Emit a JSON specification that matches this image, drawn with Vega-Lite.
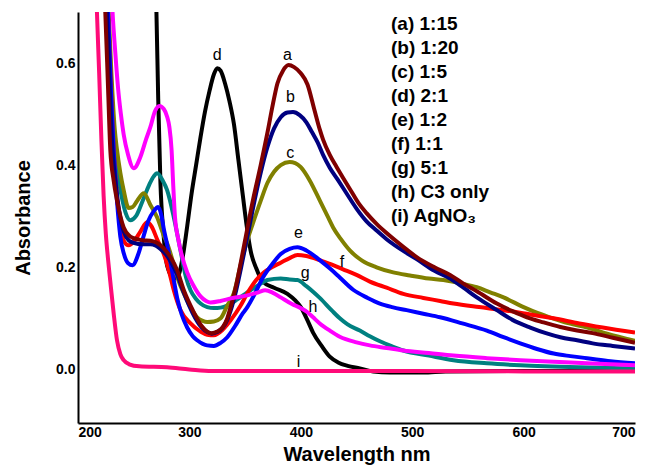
{
  "$schema": "https://vega.github.io/schema/vega-lite/v6.json",
  "autosize": "none",
  "width": 557,
  "height": 411,
  "padding": {"left": 78, "top": 12, "right": 14, "bottom": 44},
  "background": "white",
  "config": {
    "view": {"stroke": null},
    "font": "Liberation Sans",
    "axis": {
      "grid": false,
      "ticks": false,
      "domainColor": "black",
      "domainWidth": 2,
      "labelFont": "Liberation Sans",
      "labelFontWeight": "bold",
      "labelFontSize": 14,
      "labelColor": "black",
      "titleFont": "Liberation Sans",
      "titleFontWeight": "bold",
      "titleFontSize": 20,
      "titleColor": "black"
    }
  },
  "datasets": {
    "curves": [
      {"s": "(d) 2:1", "nm": 268, "A": 0.85}, {"s": "(d) 2:1", "nm": 270.4, "A": 0.70}, {"s": "(d) 2:1", "nm": 272, "A": 0.53}, {"s": "(d) 2:1", "nm": 274, "A": 0.365}, {"s": "(d) 2:1", "nm": 276.7, "A": 0.267}, {"s": "(d) 2:1", "nm": 279, "A": 0.215}, {"s": "(d) 2:1", "nm": 282, "A": 0.19}, {"s": "(d) 2:1", "nm": 286, "A": 0.178}, {"s": "(d) 2:1", "nm": 290, "A": 0.183}, {"s": "(d) 2:1", "nm": 294, "A": 0.22}, {"s": "(d) 2:1", "nm": 298, "A": 0.28}, {"s": "(d) 2:1", "nm": 302, "A": 0.345}, {"s": "(d) 2:1", "nm": 306, "A": 0.40}, {"s": "(d) 2:1", "nm": 310, "A": 0.455}, {"s": "(d) 2:1", "nm": 314, "A": 0.505}, {"s": "(d) 2:1", "nm": 318, "A": 0.545}, {"s": "(d) 2:1", "nm": 322, "A": 0.578}, {"s": "(d) 2:1", "nm": 325, "A": 0.59}, {"s": "(d) 2:1", "nm": 328, "A": 0.585}, {"s": "(d) 2:1", "nm": 332, "A": 0.56}, {"s": "(d) 2:1", "nm": 336, "A": 0.525}, {"s": "(d) 2:1", "nm": 340, "A": 0.48}, {"s": "(d) 2:1", "nm": 344, "A": 0.41}, {"s": "(d) 2:1", "nm": 348, "A": 0.34}, {"s": "(d) 2:1", "nm": 351.5, "A": 0.28}, {"s": "(d) 2:1", "nm": 355, "A": 0.232}, {"s": "(d) 2:1", "nm": 360, "A": 0.198}, {"s": "(d) 2:1", "nm": 366, "A": 0.172}, {"s": "(d) 2:1", "nm": 376, "A": 0.16}, {"s": "(d) 2:1", "nm": 388, "A": 0.148}, {"s": "(d) 2:1", "nm": 395, "A": 0.135}, {"s": "(d) 2:1", "nm": 400, "A": 0.122}, {"s": "(d) 2:1", "nm": 406, "A": 0.096}, {"s": "(d) 2:1", "nm": 411, "A": 0.072}, {"s": "(d) 2:1", "nm": 419, "A": 0.045}, {"s": "(d) 2:1", "nm": 426, "A": 0.025}, {"s": "(d) 2:1", "nm": 434, "A": 0.013}, {"s": "(d) 2:1", "nm": 442, "A": 0.007}, {"s": "(d) 2:1", "nm": 453, "A": 0.002}, {"s": "(d) 2:1", "nm": 465, "A": -0.004}, {"s": "(d) 2:1", "nm": 480, "A": -0.006}, {"s": "(d) 2:1", "nm": 510, "A": -0.006}, {"s": "(d) 2:1", "nm": 530, "A": -0.004}, {"s": "(d) 2:1", "nm": 600, "A": -0.003}, {"s": "(d) 2:1", "nm": 700, "A": -0.003},

      {"s": "(g) 5:1", "nm": 224, "A": 0.80}, {"s": "(g) 5:1", "nm": 227, "A": 0.70}, {"s": "(g) 5:1", "nm": 230, "A": 0.55}, {"s": "(g) 5:1", "nm": 233, "A": 0.43}, {"s": "(g) 5:1", "nm": 236, "A": 0.38}, {"s": "(g) 5:1", "nm": 240, "A": 0.33}, {"s": "(g) 5:1", "nm": 243, "A": 0.305}, {"s": "(g) 5:1", "nm": 247, "A": 0.292}, {"s": "(g) 5:1", "nm": 252, "A": 0.30}, {"s": "(g) 5:1", "nm": 258, "A": 0.33}, {"s": "(g) 5:1", "nm": 264, "A": 0.362}, {"s": "(g) 5:1", "nm": 268, "A": 0.378}, {"s": "(g) 5:1", "nm": 271, "A": 0.384}, {"s": "(g) 5:1", "nm": 276, "A": 0.37}, {"s": "(g) 5:1", "nm": 280, "A": 0.351}, {"s": "(g) 5:1", "nm": 286, "A": 0.298}, {"s": "(g) 5:1", "nm": 292, "A": 0.233}, {"s": "(g) 5:1", "nm": 297, "A": 0.18}, {"s": "(g) 5:1", "nm": 301, "A": 0.155}, {"s": "(g) 5:1", "nm": 306, "A": 0.138}, {"s": "(g) 5:1", "nm": 310, "A": 0.129}, {"s": "(g) 5:1", "nm": 316, "A": 0.122}, {"s": "(g) 5:1", "nm": 322, "A": 0.12}, {"s": "(g) 5:1", "nm": 328, "A": 0.121}, {"s": "(g) 5:1", "nm": 334, "A": 0.125}, {"s": "(g) 5:1", "nm": 343, "A": 0.137}, {"s": "(g) 5:1", "nm": 352, "A": 0.151}, {"s": "(g) 5:1", "nm": 362, "A": 0.165}, {"s": "(g) 5:1", "nm": 370, "A": 0.175}, {"s": "(g) 5:1", "nm": 382, "A": 0.178}, {"s": "(g) 5:1", "nm": 390, "A": 0.176}, {"s": "(g) 5:1", "nm": 397, "A": 0.175}, {"s": "(g) 5:1", "nm": 405, "A": 0.163}, {"s": "(g) 5:1", "nm": 411, "A": 0.152}, {"s": "(g) 5:1", "nm": 417, "A": 0.14}, {"s": "(g) 5:1", "nm": 428, "A": 0.115}, {"s": "(g) 5:1", "nm": 435, "A": 0.1}, {"s": "(g) 5:1", "nm": 442, "A": 0.088}, {"s": "(g) 5:1", "nm": 453, "A": 0.076}, {"s": "(g) 5:1", "nm": 462, "A": 0.065}, {"s": "(g) 5:1", "nm": 471, "A": 0.055}, {"s": "(g) 5:1", "nm": 482, "A": 0.045}, {"s": "(g) 5:1", "nm": 492, "A": 0.037}, {"s": "(g) 5:1", "nm": 515, "A": 0.027}, {"s": "(g) 5:1", "nm": 537, "A": 0.018}, {"s": "(g) 5:1", "nm": 567, "A": 0.012}, {"s": "(g) 5:1", "nm": 597, "A": 0.008}, {"s": "(g) 5:1", "nm": 650, "A": 0.004}, {"s": "(g) 5:1", "nm": 700, "A": 0.002},

      {"s": "(c) 1:5", "nm": 224, "A": 0.80}, {"s": "(c) 1:5", "nm": 227.5, "A": 0.70}, {"s": "(c) 1:5", "nm": 230, "A": 0.58}, {"s": "(c) 1:5", "nm": 233, "A": 0.47}, {"s": "(c) 1:5", "nm": 235, "A": 0.43}, {"s": "(c) 1:5", "nm": 238, "A": 0.385}, {"s": "(c) 1:5", "nm": 241, "A": 0.351}, {"s": "(c) 1:5", "nm": 245.5, "A": 0.316}, {"s": "(c) 1:5", "nm": 249, "A": 0.318}, {"s": "(c) 1:5", "nm": 253, "A": 0.33}, {"s": "(c) 1:5", "nm": 259, "A": 0.345}, {"s": "(c) 1:5", "nm": 265, "A": 0.322}, {"s": "(c) 1:5", "nm": 271, "A": 0.298}, {"s": "(c) 1:5", "nm": 277, "A": 0.262}, {"s": "(c) 1:5", "nm": 280, "A": 0.247}, {"s": "(c) 1:5", "nm": 286, "A": 0.205}, {"s": "(c) 1:5", "nm": 290, "A": 0.175}, {"s": "(c) 1:5", "nm": 295, "A": 0.149}, {"s": "(c) 1:5", "nm": 301, "A": 0.122}, {"s": "(c) 1:5", "nm": 307, "A": 0.102}, {"s": "(c) 1:5", "nm": 312, "A": 0.095}, {"s": "(c) 1:5", "nm": 316, "A": 0.093}, {"s": "(c) 1:5", "nm": 322, "A": 0.094}, {"s": "(c) 1:5", "nm": 328, "A": 0.1}, {"s": "(c) 1:5", "nm": 334, "A": 0.125}, {"s": "(c) 1:5", "nm": 340, "A": 0.15}, {"s": "(c) 1:5", "nm": 346, "A": 0.205}, {"s": "(c) 1:5", "nm": 352, "A": 0.253}, {"s": "(c) 1:5", "nm": 357, "A": 0.286}, {"s": "(c) 1:5", "nm": 364, "A": 0.33}, {"s": "(c) 1:5", "nm": 370, "A": 0.365}, {"s": "(c) 1:5", "nm": 376, "A": 0.387}, {"s": "(c) 1:5", "nm": 382, "A": 0.4}, {"s": "(c) 1:5", "nm": 390, "A": 0.406}, {"s": "(c) 1:5", "nm": 395, "A": 0.404}, {"s": "(c) 1:5", "nm": 400, "A": 0.396}, {"s": "(c) 1:5", "nm": 408, "A": 0.37}, {"s": "(c) 1:5", "nm": 417, "A": 0.331}, {"s": "(c) 1:5", "nm": 424, "A": 0.3}, {"s": "(c) 1:5", "nm": 429, "A": 0.278}, {"s": "(c) 1:5", "nm": 436, "A": 0.255}, {"s": "(c) 1:5", "nm": 444, "A": 0.233}, {"s": "(c) 1:5", "nm": 455, "A": 0.213}, {"s": "(c) 1:5", "nm": 468, "A": 0.2}, {"s": "(c) 1:5", "nm": 483, "A": 0.19}, {"s": "(c) 1:5", "nm": 498, "A": 0.184}, {"s": "(c) 1:5", "nm": 515, "A": 0.178}, {"s": "(c) 1:5", "nm": 528, "A": 0.175}, {"s": "(c) 1:5", "nm": 545, "A": 0.168}, {"s": "(c) 1:5", "nm": 558, "A": 0.161}, {"s": "(c) 1:5", "nm": 570, "A": 0.151}, {"s": "(c) 1:5", "nm": 582, "A": 0.141}, {"s": "(c) 1:5", "nm": 600, "A": 0.122}, {"s": "(c) 1:5", "nm": 613, "A": 0.11}, {"s": "(c) 1:5", "nm": 626, "A": 0.1}, {"s": "(c) 1:5", "nm": 641, "A": 0.09}, {"s": "(c) 1:5", "nm": 657, "A": 0.082}, {"s": "(c) 1:5", "nm": 675, "A": 0.07}, {"s": "(c) 1:5", "nm": 700, "A": 0.056},

      {"s": "(f) 1:1", "nm": 224, "A": 0.80}, {"s": "(f) 1:1", "nm": 227, "A": 0.70}, {"s": "(f) 1:1", "nm": 229.5, "A": 0.55}, {"s": "(f) 1:1", "nm": 232, "A": 0.43}, {"s": "(f) 1:1", "nm": 235, "A": 0.34}, {"s": "(f) 1:1", "nm": 238, "A": 0.28}, {"s": "(f) 1:1", "nm": 241, "A": 0.252}, {"s": "(f) 1:1", "nm": 245.5, "A": 0.243}, {"s": "(f) 1:1", "nm": 250, "A": 0.25}, {"s": "(f) 1:1", "nm": 256, "A": 0.27}, {"s": "(f) 1:1", "nm": 262, "A": 0.288}, {"s": "(f) 1:1", "nm": 266, "A": 0.28}, {"s": "(f) 1:1", "nm": 271, "A": 0.255}, {"s": "(f) 1:1", "nm": 278, "A": 0.22}, {"s": "(f) 1:1", "nm": 282, "A": 0.19}, {"s": "(f) 1:1", "nm": 286, "A": 0.155}, {"s": "(f) 1:1", "nm": 292, "A": 0.116}, {"s": "(f) 1:1", "nm": 301, "A": 0.09}, {"s": "(f) 1:1", "nm": 310, "A": 0.074}, {"s": "(f) 1:1", "nm": 316, "A": 0.068}, {"s": "(f) 1:1", "nm": 322, "A": 0.067}, {"s": "(f) 1:1", "nm": 330, "A": 0.078}, {"s": "(f) 1:1", "nm": 337, "A": 0.096}, {"s": "(f) 1:1", "nm": 346, "A": 0.125}, {"s": "(f) 1:1", "nm": 352, "A": 0.149}, {"s": "(f) 1:1", "nm": 360, "A": 0.175}, {"s": "(f) 1:1", "nm": 367, "A": 0.19}, {"s": "(f) 1:1", "nm": 374, "A": 0.2}, {"s": "(f) 1:1", "nm": 382, "A": 0.209}, {"s": "(f) 1:1", "nm": 390, "A": 0.218}, {"s": "(f) 1:1", "nm": 397, "A": 0.224}, {"s": "(f) 1:1", "nm": 405, "A": 0.222}, {"s": "(f) 1:1", "nm": 417, "A": 0.214}, {"s": "(f) 1:1", "nm": 428, "A": 0.205}, {"s": "(f) 1:1", "nm": 438, "A": 0.196}, {"s": "(f) 1:1", "nm": 450, "A": 0.185}, {"s": "(f) 1:1", "nm": 462, "A": 0.172}, {"s": "(f) 1:1", "nm": 477, "A": 0.16}, {"s": "(f) 1:1", "nm": 492, "A": 0.148}, {"s": "(f) 1:1", "nm": 510, "A": 0.14}, {"s": "(f) 1:1", "nm": 525, "A": 0.134}, {"s": "(f) 1:1", "nm": 537, "A": 0.129}, {"s": "(f) 1:1", "nm": 560, "A": 0.122}, {"s": "(f) 1:1", "nm": 582, "A": 0.116}, {"s": "(f) 1:1", "nm": 605, "A": 0.108}, {"s": "(f) 1:1", "nm": 627, "A": 0.1}, {"s": "(f) 1:1", "nm": 650, "A": 0.09}, {"s": "(f) 1:1", "nm": 671, "A": 0.082}, {"s": "(f) 1:1", "nm": 700, "A": 0.072},

      {"s": "(e) 1:2", "nm": 224, "A": 0.80}, {"s": "(e) 1:2", "nm": 227, "A": 0.70}, {"s": "(e) 1:2", "nm": 229.5, "A": 0.55}, {"s": "(e) 1:2", "nm": 232, "A": 0.43}, {"s": "(e) 1:2", "nm": 235, "A": 0.33}, {"s": "(e) 1:2", "nm": 238, "A": 0.26}, {"s": "(e) 1:2", "nm": 241, "A": 0.228}, {"s": "(e) 1:2", "nm": 245, "A": 0.208}, {"s": "(e) 1:2", "nm": 249, "A": 0.204}, {"s": "(e) 1:2", "nm": 254, "A": 0.225}, {"s": "(e) 1:2", "nm": 259, "A": 0.262}, {"s": "(e) 1:2", "nm": 263, "A": 0.29}, {"s": "(e) 1:2", "nm": 268, "A": 0.31}, {"s": "(e) 1:2", "nm": 272, "A": 0.318}, {"s": "(e) 1:2", "nm": 275, "A": 0.3}, {"s": "(e) 1:2", "nm": 277, "A": 0.275}, {"s": "(e) 1:2", "nm": 280, "A": 0.245}, {"s": "(e) 1:2", "nm": 283, "A": 0.21}, {"s": "(e) 1:2", "nm": 286, "A": 0.175}, {"s": "(e) 1:2", "nm": 289, "A": 0.14}, {"s": "(e) 1:2", "nm": 293, "A": 0.108}, {"s": "(e) 1:2", "nm": 298, "A": 0.082}, {"s": "(e) 1:2", "nm": 303, "A": 0.065}, {"s": "(e) 1:2", "nm": 307, "A": 0.057}, {"s": "(e) 1:2", "nm": 312, "A": 0.05}, {"s": "(e) 1:2", "nm": 316, "A": 0.047}, {"s": "(e) 1:2", "nm": 322, "A": 0.046}, {"s": "(e) 1:2", "nm": 328, "A": 0.052}, {"s": "(e) 1:2", "nm": 334, "A": 0.063}, {"s": "(e) 1:2", "nm": 341, "A": 0.085}, {"s": "(e) 1:2", "nm": 348, "A": 0.11}, {"s": "(e) 1:2", "nm": 352, "A": 0.122}, {"s": "(e) 1:2", "nm": 358, "A": 0.145}, {"s": "(e) 1:2", "nm": 366, "A": 0.18}, {"s": "(e) 1:2", "nm": 374, "A": 0.205}, {"s": "(e) 1:2", "nm": 382, "A": 0.226}, {"s": "(e) 1:2", "nm": 390, "A": 0.236}, {"s": "(e) 1:2", "nm": 397, "A": 0.239}, {"s": "(e) 1:2", "nm": 405, "A": 0.233}, {"s": "(e) 1:2", "nm": 417, "A": 0.214}, {"s": "(e) 1:2", "nm": 427, "A": 0.196}, {"s": "(e) 1:2", "nm": 435, "A": 0.18}, {"s": "(e) 1:2", "nm": 447, "A": 0.156}, {"s": "(e) 1:2", "nm": 460, "A": 0.14}, {"s": "(e) 1:2", "nm": 471, "A": 0.129}, {"s": "(e) 1:2", "nm": 482, "A": 0.122}, {"s": "(e) 1:2", "nm": 495, "A": 0.116}, {"s": "(e) 1:2", "nm": 510, "A": 0.109}, {"s": "(e) 1:2", "nm": 525, "A": 0.102}, {"s": "(e) 1:2", "nm": 545, "A": 0.09}, {"s": "(e) 1:2", "nm": 567, "A": 0.076}, {"s": "(e) 1:2", "nm": 582, "A": 0.063}, {"s": "(e) 1:2", "nm": 597, "A": 0.051}, {"s": "(e) 1:2", "nm": 612, "A": 0.04}, {"s": "(e) 1:2", "nm": 627, "A": 0.031}, {"s": "(e) 1:2", "nm": 642, "A": 0.026}, {"s": "(e) 1:2", "nm": 657, "A": 0.022}, {"s": "(e) 1:2", "nm": 678, "A": 0.016}, {"s": "(e) 1:2", "nm": 700, "A": 0.012},

      {"s": "(b) 1:20", "nm": 223, "A": 0.80}, {"s": "(b) 1:20", "nm": 226, "A": 0.70}, {"s": "(b) 1:20", "nm": 228.5, "A": 0.55}, {"s": "(b) 1:20", "nm": 231, "A": 0.43}, {"s": "(b) 1:20", "nm": 234, "A": 0.36}, {"s": "(b) 1:20", "nm": 237, "A": 0.31}, {"s": "(b) 1:20", "nm": 241, "A": 0.27}, {"s": "(b) 1:20", "nm": 246, "A": 0.252}, {"s": "(b) 1:20", "nm": 250, "A": 0.248}, {"s": "(b) 1:20", "nm": 258, "A": 0.245}, {"s": "(b) 1:20", "nm": 265, "A": 0.245}, {"s": "(b) 1:20", "nm": 270, "A": 0.242}, {"s": "(b) 1:20", "nm": 274, "A": 0.236}, {"s": "(b) 1:20", "nm": 279, "A": 0.225}, {"s": "(b) 1:20", "nm": 283, "A": 0.212}, {"s": "(b) 1:20", "nm": 289, "A": 0.186}, {"s": "(b) 1:20", "nm": 295, "A": 0.15}, {"s": "(b) 1:20", "nm": 303, "A": 0.11}, {"s": "(b) 1:20", "nm": 311, "A": 0.082}, {"s": "(b) 1:20", "nm": 316, "A": 0.073}, {"s": "(b) 1:20", "nm": 320, "A": 0.07}, {"s": "(b) 1:20", "nm": 325, "A": 0.073}, {"s": "(b) 1:20", "nm": 330, "A": 0.082}, {"s": "(b) 1:20", "nm": 334, "A": 0.097}, {"s": "(b) 1:20", "nm": 337, "A": 0.115}, {"s": "(b) 1:20", "nm": 342, "A": 0.155}, {"s": "(b) 1:20", "nm": 346, "A": 0.195}, {"s": "(b) 1:20", "nm": 350, "A": 0.238}, {"s": "(b) 1:20", "nm": 357, "A": 0.315}, {"s": "(b) 1:20", "nm": 364, "A": 0.385}, {"s": "(b) 1:20", "nm": 370, "A": 0.435}, {"s": "(b) 1:20", "nm": 376, "A": 0.472}, {"s": "(b) 1:20", "nm": 382, "A": 0.494}, {"s": "(b) 1:20", "nm": 388, "A": 0.503}, {"s": "(b) 1:20", "nm": 393, "A": 0.504}, {"s": "(b) 1:20", "nm": 399, "A": 0.498}, {"s": "(b) 1:20", "nm": 405, "A": 0.484}, {"s": "(b) 1:20", "nm": 410, "A": 0.465}, {"s": "(b) 1:20", "nm": 415, "A": 0.445}, {"s": "(b) 1:20", "nm": 420, "A": 0.42}, {"s": "(b) 1:20", "nm": 426, "A": 0.395}, {"s": "(b) 1:20", "nm": 433, "A": 0.372}, {"s": "(b) 1:20", "nm": 441, "A": 0.345}, {"s": "(b) 1:20", "nm": 450, "A": 0.315}, {"s": "(b) 1:20", "nm": 459, "A": 0.29}, {"s": "(b) 1:20", "nm": 468, "A": 0.272}, {"s": "(b) 1:20", "nm": 477, "A": 0.255}, {"s": "(b) 1:20", "nm": 492, "A": 0.232}, {"s": "(b) 1:20", "nm": 504, "A": 0.216}, {"s": "(b) 1:20", "nm": 520, "A": 0.193}, {"s": "(b) 1:20", "nm": 534, "A": 0.178}, {"s": "(b) 1:20", "nm": 546, "A": 0.16}, {"s": "(b) 1:20", "nm": 558, "A": 0.141}, {"s": "(b) 1:20", "nm": 576, "A": 0.116}, {"s": "(b) 1:20", "nm": 590, "A": 0.097}, {"s": "(b) 1:20", "nm": 606, "A": 0.082}, {"s": "(b) 1:20", "nm": 620, "A": 0.071}, {"s": "(b) 1:20", "nm": 633, "A": 0.063}, {"s": "(b) 1:20", "nm": 648, "A": 0.057}, {"s": "(b) 1:20", "nm": 662, "A": 0.051}, {"s": "(b) 1:20", "nm": 680, "A": 0.046}, {"s": "(b) 1:20", "nm": 700, "A": 0.041},

      {"s": "(a) 1:15", "nm": 222, "A": 0.80}, {"s": "(a) 1:15", "nm": 224.5, "A": 0.70}, {"s": "(a) 1:15", "nm": 227, "A": 0.55}, {"s": "(a) 1:15", "nm": 229, "A": 0.43}, {"s": "(a) 1:15", "nm": 232, "A": 0.37}, {"s": "(a) 1:15", "nm": 235, "A": 0.331}, {"s": "(a) 1:15", "nm": 241, "A": 0.278}, {"s": "(a) 1:15", "nm": 246, "A": 0.262}, {"s": "(a) 1:15", "nm": 250, "A": 0.257}, {"s": "(a) 1:15", "nm": 258, "A": 0.253}, {"s": "(a) 1:15", "nm": 265, "A": 0.252}, {"s": "(a) 1:15", "nm": 270, "A": 0.249}, {"s": "(a) 1:15", "nm": 274, "A": 0.243}, {"s": "(a) 1:15", "nm": 279, "A": 0.232}, {"s": "(a) 1:15", "nm": 283, "A": 0.22}, {"s": "(a) 1:15", "nm": 289, "A": 0.194}, {"s": "(a) 1:15", "nm": 295, "A": 0.155}, {"s": "(a) 1:15", "nm": 303, "A": 0.116}, {"s": "(a) 1:15", "nm": 311, "A": 0.085}, {"s": "(a) 1:15", "nm": 316, "A": 0.074}, {"s": "(a) 1:15", "nm": 320, "A": 0.071}, {"s": "(a) 1:15", "nm": 325, "A": 0.074}, {"s": "(a) 1:15", "nm": 330, "A": 0.083}, {"s": "(a) 1:15", "nm": 334, "A": 0.1}, {"s": "(a) 1:15", "nm": 337, "A": 0.122}, {"s": "(a) 1:15", "nm": 342, "A": 0.165}, {"s": "(a) 1:15", "nm": 346, "A": 0.208}, {"s": "(a) 1:15", "nm": 350, "A": 0.253}, {"s": "(a) 1:15", "nm": 357, "A": 0.331}, {"s": "(a) 1:15", "nm": 364, "A": 0.40}, {"s": "(a) 1:15", "nm": 370, "A": 0.463}, {"s": "(a) 1:15", "nm": 375, "A": 0.52}, {"s": "(a) 1:15", "nm": 379, "A": 0.56}, {"s": "(a) 1:15", "nm": 384, "A": 0.585}, {"s": "(a) 1:15", "nm": 389, "A": 0.596}, {"s": "(a) 1:15", "nm": 394, "A": 0.592}, {"s": "(a) 1:15", "nm": 400, "A": 0.58}, {"s": "(a) 1:15", "nm": 406, "A": 0.558}, {"s": "(a) 1:15", "nm": 412, "A": 0.51}, {"s": "(a) 1:15", "nm": 417, "A": 0.47}, {"s": "(a) 1:15", "nm": 420, "A": 0.45}, {"s": "(a) 1:15", "nm": 426, "A": 0.42}, {"s": "(a) 1:15", "nm": 432, "A": 0.397}, {"s": "(a) 1:15", "nm": 438, "A": 0.375}, {"s": "(a) 1:15", "nm": 445, "A": 0.35}, {"s": "(a) 1:15", "nm": 452, "A": 0.325}, {"s": "(a) 1:15", "nm": 459, "A": 0.306}, {"s": "(a) 1:15", "nm": 468, "A": 0.285}, {"s": "(a) 1:15", "nm": 477, "A": 0.267}, {"s": "(a) 1:15", "nm": 492, "A": 0.24}, {"s": "(a) 1:15", "nm": 504, "A": 0.22}, {"s": "(a) 1:15", "nm": 520, "A": 0.2}, {"s": "(a) 1:15", "nm": 534, "A": 0.185}, {"s": "(a) 1:15", "nm": 546, "A": 0.168}, {"s": "(a) 1:15", "nm": 558, "A": 0.153}, {"s": "(a) 1:15", "nm": 576, "A": 0.129}, {"s": "(a) 1:15", "nm": 590, "A": 0.114}, {"s": "(a) 1:15", "nm": 603, "A": 0.102}, {"s": "(a) 1:15", "nm": 618, "A": 0.092}, {"s": "(a) 1:15", "nm": 633, "A": 0.083}, {"s": "(a) 1:15", "nm": 648, "A": 0.076}, {"s": "(a) 1:15", "nm": 662, "A": 0.071}, {"s": "(a) 1:15", "nm": 680, "A": 0.062}, {"s": "(a) 1:15", "nm": 700, "A": 0.052},

      {"s": "(h) C3 only", "nm": 228, "A": 0.85}, {"s": "(h) C3 only", "nm": 231, "A": 0.70}, {"s": "(h) C3 only", "nm": 233.5, "A": 0.62}, {"s": "(h) C3 only", "nm": 236, "A": 0.55}, {"s": "(h) C3 only", "nm": 238.5, "A": 0.5}, {"s": "(h) C3 only", "nm": 241, "A": 0.46}, {"s": "(h) C3 only", "nm": 245, "A": 0.42}, {"s": "(h) C3 only", "nm": 250, "A": 0.394}, {"s": "(h) C3 only", "nm": 256, "A": 0.416}, {"s": "(h) C3 only", "nm": 261, "A": 0.45}, {"s": "(h) C3 only", "nm": 265, "A": 0.475}, {"s": "(h) C3 only", "nm": 269, "A": 0.505}, {"s": "(h) C3 only", "nm": 273, "A": 0.516}, {"s": "(h) C3 only", "nm": 277, "A": 0.51}, {"s": "(h) C3 only", "nm": 280, "A": 0.495}, {"s": "(h) C3 only", "nm": 282, "A": 0.475}, {"s": "(h) C3 only", "nm": 284, "A": 0.43}, {"s": "(h) C3 only", "nm": 285.5, "A": 0.36}, {"s": "(h) C3 only", "nm": 287, "A": 0.3}, {"s": "(h) C3 only", "nm": 290, "A": 0.255}, {"s": "(h) C3 only", "nm": 293, "A": 0.225}, {"s": "(h) C3 only", "nm": 298, "A": 0.19}, {"s": "(h) C3 only", "nm": 304, "A": 0.163}, {"s": "(h) C3 only", "nm": 310, "A": 0.143}, {"s": "(h) C3 only", "nm": 315, "A": 0.134}, {"s": "(h) C3 only", "nm": 319, "A": 0.131}, {"s": "(h) C3 only", "nm": 328, "A": 0.134}, {"s": "(h) C3 only", "nm": 337, "A": 0.139}, {"s": "(h) C3 only", "nm": 352, "A": 0.145}, {"s": "(h) C3 only", "nm": 362, "A": 0.151}, {"s": "(h) C3 only", "nm": 368, "A": 0.155}, {"s": "(h) C3 only", "nm": 375, "A": 0.15}, {"s": "(h) C3 only", "nm": 382, "A": 0.141}, {"s": "(h) C3 only", "nm": 392, "A": 0.128}, {"s": "(h) C3 only", "nm": 400, "A": 0.12}, {"s": "(h) C3 only", "nm": 406, "A": 0.112}, {"s": "(h) C3 only", "nm": 411, "A": 0.102}, {"s": "(h) C3 only", "nm": 417, "A": 0.09}, {"s": "(h) C3 only", "nm": 426, "A": 0.076}, {"s": "(h) C3 only", "nm": 435, "A": 0.064}, {"s": "(h) C3 only", "nm": 450, "A": 0.053}, {"s": "(h) C3 only", "nm": 462, "A": 0.047}, {"s": "(h) C3 only", "nm": 477, "A": 0.042}, {"s": "(h) C3 only", "nm": 492, "A": 0.037}, {"s": "(h) C3 only", "nm": 515, "A": 0.032}, {"s": "(h) C3 only", "nm": 537, "A": 0.027}, {"s": "(h) C3 only", "nm": 567, "A": 0.022}, {"s": "(h) C3 only", "nm": 597, "A": 0.018}, {"s": "(h) C3 only", "nm": 627, "A": 0.015}, {"s": "(h) C3 only", "nm": 657, "A": 0.012}, {"s": "(h) C3 only", "nm": 700, "A": 0.008},

      {"s": "(i) AgNO₃", "nm": 215, "A": 0.85}, {"s": "(i) AgNO₃", "nm": 217, "A": 0.70}, {"s": "(i) AgNO₃", "nm": 219, "A": 0.58}, {"s": "(i) AgNO₃", "nm": 221, "A": 0.45}, {"s": "(i) AgNO₃", "nm": 223, "A": 0.34}, {"s": "(i) AgNO₃", "nm": 225, "A": 0.265}, {"s": "(i) AgNO₃", "nm": 227, "A": 0.215}, {"s": "(i) AgNO₃", "nm": 229, "A": 0.172}, {"s": "(i) AgNO₃", "nm": 232, "A": 0.11}, {"s": "(i) AgNO₃", "nm": 235, "A": 0.057}, {"s": "(i) AgNO₃", "nm": 238, "A": 0.03}, {"s": "(i) AgNO₃", "nm": 241, "A": 0.018}, {"s": "(i) AgNO₃", "nm": 246, "A": 0.01}, {"s": "(i) AgNO₃", "nm": 255, "A": 0.006}, {"s": "(i) AgNO₃", "nm": 280, "A": 0.004}, {"s": "(i) AgNO₃", "nm": 300, "A": 0.0}, {"s": "(i) AgNO₃", "nm": 320, "A": -0.003}, {"s": "(i) AgNO₃", "nm": 400, "A": -0.003}, {"s": "(i) AgNO₃", "nm": 500, "A": -0.003}, {"s": "(i) AgNO₃", "nm": 600, "A": -0.004}, {"s": "(i) AgNO₃", "nm": 700, "A": -0.004}
    ],
    "tags": [
      {"t": "d", "nm": 325, "A": 0.615},
      {"t": "a", "nm": 388, "A": 0.615},
      {"t": "b", "nm": 390.6, "A": 0.533},
      {"t": "c", "nm": 390.6, "A": 0.424},
      {"t": "e", "nm": 398, "A": 0.267},
      {"t": "f", "nm": 437, "A": 0.21},
      {"t": "g", "nm": 404, "A": 0.188},
      {"t": "h", "nm": 411, "A": 0.122},
      {"t": "i", "nm": 398, "A": 0.014}
    ]
  },
  "layer": [
    {
      "data": {"name": "curves"},
      "mark": {"type": "line", "strokeWidth": 4, "interpolate": "monotone", "clip": true},
      "encoding": {
        "x": {
          "field": "nm", "type": "quantitative",
          "scale": {"domain": [200, 700], "nice": false, "zero": false},
          "axis": {"values": [200, 300, 400, 500, 600, 700], "title": "Wavelength nm", "labelPadding": 2, "titlePadding": 5}
        },
        "y": {
          "field": "A", "type": "quantitative",
          "scale": {"domain": [-0.105, 0.70], "nice": false, "zero": false},
          "axis": {"values": [0, 0.2, 0.4, 0.6], "format": ".1f", "title": "Absorbance", "labelPadding": 3, "titlePadding": 22}
        },
        "color": {
          "field": "s", "type": "nominal",
          "scale": {
            "domain": ["(a) 1:15", "(b) 1:20", "(c) 1:5", "(d) 2:1", "(e) 1:2", "(f) 1:1", "(g) 5:1", "(h) C3 only", "(i) AgNO₃"],
            "range": ["#7f0000", "#000080", "#808000", "#000000", "#0000ff", "#ff0000", "#008080", "#ff00ff", "#ff0a78"]
          },
          "legend": {
            "orient": "none", "legendX": 294, "legendY": 2.5, "title": null,
            "symbolSize": 0, "symbolStrokeWidth": 0, "symbolOpacity": 0,
            "labelOffset": 0, "padding": 0, "rowPadding": 4,
            "labelFont": "Liberation Sans", "labelFontWeight": "bold", "labelFontSize": 19, "labelColor": "black", "labelLimit": 300
          }
        }
      }
    },
    {
      "data": {"name": "tags"},
      "mark": {"type": "text", "fontSize": 16, "font": "Liberation Sans", "color": "black", "align": "center", "baseline": "middle"},
      "encoding": {
        "x": {"field": "nm", "type": "quantitative"},
        "y": {"field": "A", "type": "quantitative"},
        "text": {"field": "t"}
      }
    }
  ]
}
